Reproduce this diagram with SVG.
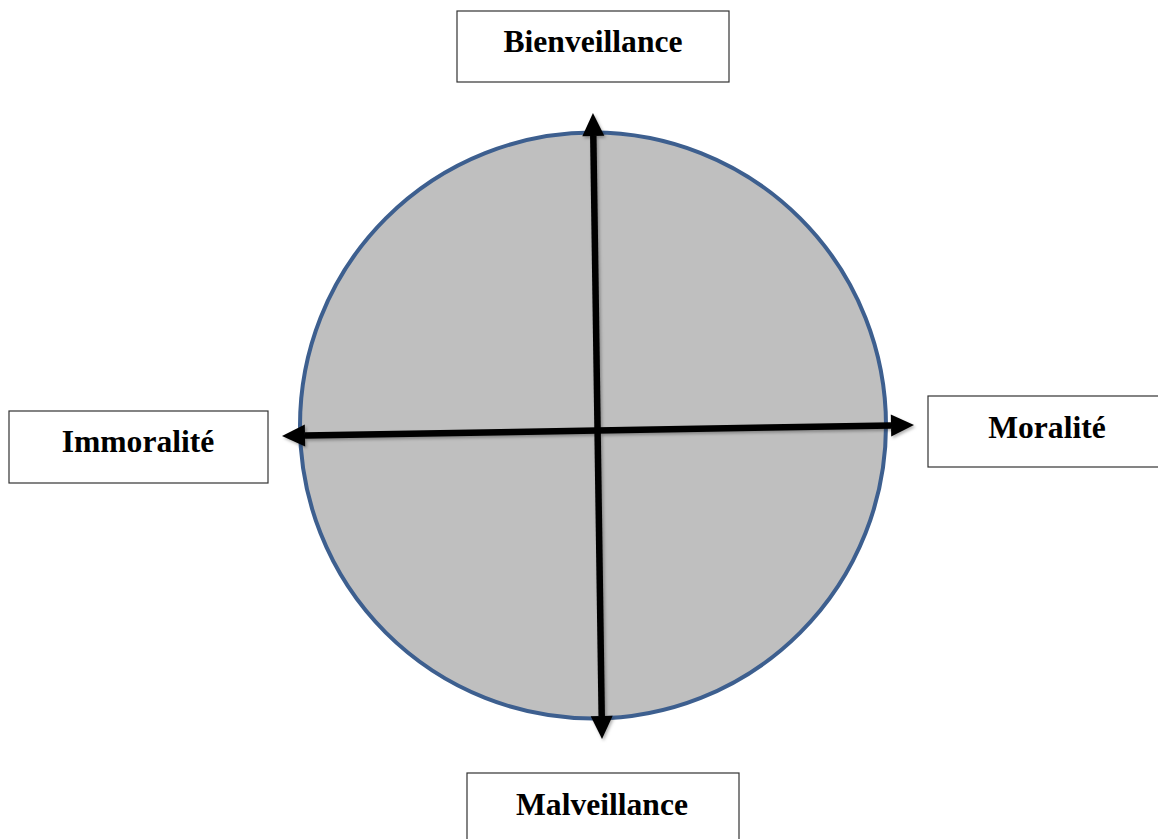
<svg xmlns="http://www.w3.org/2000/svg" width="1158" height="839" viewBox="0 0 1158 839">
<style>
.box{fill:#fff;stroke:#333;stroke-width:1.2}
.lbl{font-family:"Liberation Serif","Times New Roman",serif;font-weight:bold;font-size:31.6px;fill:#000;text-anchor:middle}
.axis{stroke:#000;stroke-width:6.5;fill:none;marker-end:url(#ah)}
</style>
<defs>
<marker id="ah" markerUnits="userSpaceOnUse" markerWidth="26" markerHeight="24" refX="0" refY="11" orient="auto" overflow="visible">
<path d="M0,0 L23,11 L0,22 Z" fill="#000"/>
</marker>
<filter id="sh" x="-5%" y="-5%" width="110%" height="110%">
<feDropShadow dx="1.5" dy="2" stdDeviation="1.5" flood-color="#000" flood-opacity="0.3"/>
</filter>
</defs>
<g id="circle">
<circle cx="593" cy="425.5" r="293" fill="#bfbfbf" stroke="#3d5f8f" stroke-width="4"/>
</g>
<g id="bienveillance">
<rect class="box" x="457" y="11" width="272" height="71"/>
<text class="lbl" x="593" y="52">Bienveillance</text>
</g>
<g id="moralite">
<rect class="box" x="928" y="396" width="240" height="71"/>
<text class="lbl" x="1047" y="438">Moralité</text>
</g>
<g id="malveillance">
<rect class="box" x="467" y="773" width="272" height="80"/>
<text class="lbl" x="602" y="815">Malveillance</text>
</g>
<g id="immoralite">
<rect class="box" x="9" y="411" width="259" height="72"/>
<text class="lbl" x="138" y="452">Immoralité</text>
</g>
<g id="connectors" filter="url(#sh)">
<line class="axis" x1="597.5" y1="426" x2="593.3" y2="136"/>
<line class="axis" x1="597.5" y1="426" x2="601.7" y2="716"/>
<line class="axis" x1="597.5" y1="430.5" x2="305" y2="435.6"/>
<line class="axis" x1="597.5" y1="430.5" x2="891" y2="425.4"/>
</g>
</svg>
